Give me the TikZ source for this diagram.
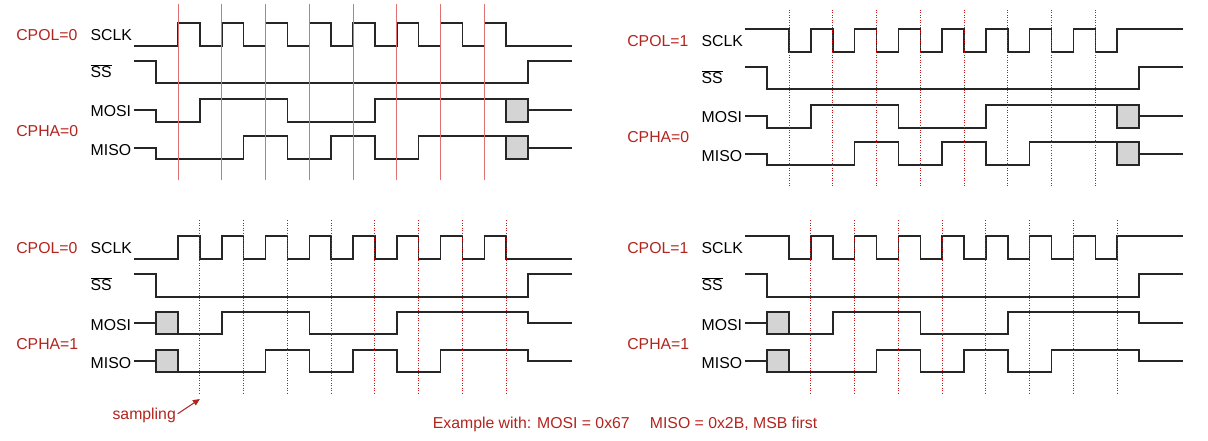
\documentclass[tikz,border=0pt]{standalone}
\usepackage{fontspec}
\setmainfont{Liberation Sans}
\usepackage{xcolor}
\usetikzlibrary{arrows.meta}
\definecolor{labelred}{RGB}{178,36,30}
\definecolor{edgered}{RGB}{200,20,20}

\begin{document}
\begin{tikzpicture}[
  x=1pt,y=-1pt,
  every node/.style={font=\fontsize{15.8}{18}\selectfont,inner sep=0pt},
  mode/.style={anchor=base west,text=labelred},
  sig/.style={anchor=base west},
  wave/.style={black!85,line width=1.5pt},
  box/.style={wave,fill=black!17},
  edge/.style={edgered,line width=1pt,dash pattern=on 1pt off 1.5pt},
  faintedge/.style={edgered!60,line width=0.7pt},
  arr/.style={-{Triangle[length=7pt,width=6pt]},labelred,line width=1pt}
]
\useasboundingbox (0,0) rectangle (1208,441);

% CPOL=0, CPHA=0
\begin{scope}[shift={(178,0)},x=21.875pt]
\node[mode] (tl-pol) at (-7.4,40.5) {CPOL=0};
\node[mode] (tl-pha) at (-7.4,136.5) {CPHA=0};
\node[sig] (tl-sclk) at (-4,40.5) {SCLK};
\node[sig] (tl-ss) at (-4,77.5) {$\overline{\mbox{SS}}$};
\node[sig] (tl-mosi) at (-4,117) {MOSI};
\node[sig] (tl-miso) at (-4,155.3) {MISO};
\draw[wave] (-2,46) foreach \k in {0,2,...,14} {-- (\k,46) -- (\k,23) -- (\k+1,23) -- (\k+1,46)} -- (18,46);
\draw[wave] (-2,61) -- (-1,61) -- (-1,83) -- (16,83) -- (16,61) -- (18,61);
\draw[wave] (-2,110) -- (-1,110) -- (-1,122) -- (1,122) -- (1,99) -- (5,99) -- (5,122) -- (9,122) -- (9,99) -- (15,99);
\draw[box] (15,99) rectangle (16,122);
\draw[wave] (16,110) -- (18,110);
\draw[wave] (-2,148) -- (-1,148) -- (-1,159) -- (3,159) -- (3,136) -- (5,136) -- (5,159) -- (7,159) -- (7,136) -- (9,136) -- (9,159) -- (11,159) -- (11,136) -- (15,136);
\draw[box] (15,136) rectangle (16,159);
\draw[wave] (16,148) -- (18,148);
\foreach \k in {0,2,...,14} \draw[faintedge] (\k,4) -- (\k,180);
\end{scope}

% CPOL=1, CPHA=0
\begin{scope}[shift={(789,6)},x=21.875pt]
\node[mode] (tr-pol) at (-7.4,40.5) {CPOL=1};
\node[mode] (tr-pha) at (-7.4,136.5) {CPHA=0};
\node[sig] (tr-sclk) at (-4,40.5) {SCLK};
\node[sig] (tr-ss) at (-4,77.5) {$\overline{\mbox{SS}}$};
\node[sig] (tr-mosi) at (-4,117) {MOSI};
\node[sig] (tr-miso) at (-4,155.3) {MISO};
\draw[wave] (-2,23) foreach \k in {0,2,...,14} {-- (\k,23) -- (\k,46) -- (\k+1,46) -- (\k+1,23)} -- (18,23);
\draw[wave] (-2,61) -- (-1,61) -- (-1,83) -- (16,83) -- (16,61) -- (18,61);
\draw[wave] (-2,110) -- (-1,110) -- (-1,122) -- (1,122) -- (1,99) -- (5,99) -- (5,122) -- (9,122) -- (9,99) -- (15,99);
\draw[box] (15,99) rectangle (16,122);
\draw[wave] (16,110) -- (18,110);
\draw[wave] (-2,148) -- (-1,148) -- (-1,159) -- (3,159) -- (3,136) -- (5,136) -- (5,159) -- (7,159) -- (7,136) -- (9,136) -- (9,159) -- (11,159) -- (11,136) -- (15,136);
\draw[box] (15,136) rectangle (16,159);
\draw[wave] (16,148) -- (18,148);
\foreach \k in {0,2,...,14} \draw[edge] (\k,4) -- (\k,180);
\end{scope}

% CPOL=0, CPHA=1
\begin{scope}[shift={(178,213)},x=21.875pt]
\node[mode] (bl-pol) at (-7.4,40.5) {CPOL=0};
\node[mode] (bl-pha) at (-7.4,136.5) {CPHA=1};
\node[sig] (bl-sclk) at (-4,40.5) {SCLK};
\node[sig] (bl-ss) at (-4,77.5) {$\overline{\mbox{SS}}$};
\node[sig] (bl-mosi) at (-4,117) {MOSI};
\node[sig] (bl-miso) at (-4,155.3) {MISO};
\draw[wave] (-2,46) foreach \k in {0,2,...,14} {-- (\k,46) -- (\k,23) -- (\k+1,23) -- (\k+1,46)} -- (18,46);
\draw[wave] (-2,61) -- (-1,61) -- (-1,84) -- (16,84) -- (16,61) -- (18,61);
\draw[wave] (-2,110) -- (-1,110);
\draw[box] (-1,99) rectangle (0,121);
\draw[wave] (0,121) -- (2,121) -- (2,99) -- (6,99) -- (6,121) -- (10,121) -- (10,99) -- (16,99) -- (16,110) -- (18,110);
\draw[wave] (-2,148) -- (-1,148);
\draw[box] (-1,137) rectangle (0,159);
\draw[wave] (0,159) -- (4,159) -- (4,137) -- (6,137) -- (6,159) -- (8,159) -- (8,137) -- (10,137) -- (10,159) -- (12,159) -- (12,137) -- (16,137) -- (16,148) -- (18,148);
\foreach \k in {1,3,...,15} \draw[edge] (\k,7) -- (\k,181);
\node[mode] (bl-samp) at (-3,206) {sampling};
\coordinate (bl-tip) at (1,186);
\draw[arr,shorten <=2pt] (bl-samp.east) -- (bl-tip);
\end{scope}

% CPOL=1, CPHA=1
\begin{scope}[shift={(789,213)},x=21.875pt]
\node[mode] (br-pol) at (-7.4,40.5) {CPOL=1};
\node[mode] (br-pha) at (-7.4,136.5) {CPHA=1};
\node[sig] (br-sclk) at (-4,40.5) {SCLK};
\node[sig] (br-ss) at (-4,77.5) {$\overline{\mbox{SS}}$};
\node[sig] (br-mosi) at (-4,117) {MOSI};
\node[sig] (br-miso) at (-4,155.3) {MISO};
\draw[wave] (-2,23) foreach \k in {0,2,...,14} {-- (\k,23) -- (\k,46) -- (\k+1,46) -- (\k+1,23)} -- (18,23);
\draw[wave] (-2,61) -- (-1,61) -- (-1,84) -- (16,84) -- (16,61) -- (18,61);
\draw[wave] (-2,110) -- (-1,110);
\draw[box] (-1,99) rectangle (0,121);
\draw[wave] (0,121) -- (2,121) -- (2,99) -- (6,99) -- (6,121) -- (10,121) -- (10,99) -- (16,99) -- (16,110) -- (18,110);
\draw[wave] (-2,148) -- (-1,148);
\draw[box] (-1,137) rectangle (0,159);
\draw[wave] (0,159) -- (4,159) -- (4,137) -- (6,137) -- (6,159) -- (8,159) -- (8,137) -- (10,137) -- (10,159) -- (12,159) -- (12,137) -- (16,137) -- (16,148) -- (18,148);
\foreach \k in {1,3,...,15} \draw[edge] (\k,7) -- (\k,181);
\end{scope}

\node[mode] (example) at (432.7,428) {Example with: MOSI = 0x67 \quad MISO = 0x2B, MSB first};
\end{tikzpicture}
\end{document}
